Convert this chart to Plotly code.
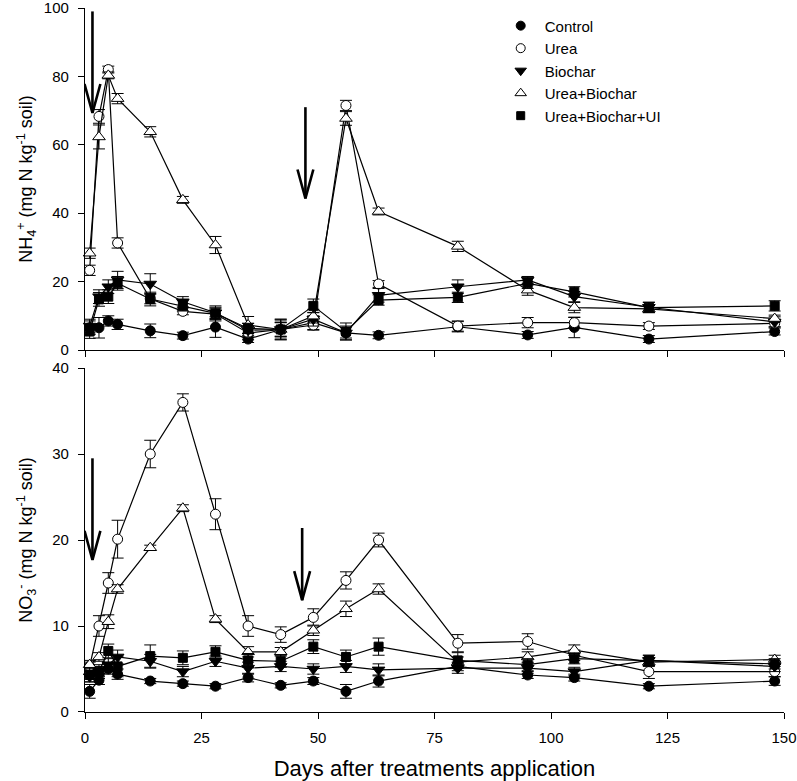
import plotly.graph_objects as go

# ---------------- data ----------------
days = [1, 3, 5, 7, 14, 21, 28, 35, 42, 49, 56, 63, 80, 95, 105, 121, 148]
series_names = ["Control", "Urea", "Biochar", "Urea+Biochar", "Urea+Biochar+UI"]

# NH4+ (mg N kg-1 soil)
nh4_control = [6.5, 6.5, 8.5, 7.5, 5.6, 4.2, 6.7, 3.2, 6.0, 8.0, 5.0, 4.3, 6.8, 4.4, 6.6, 3.2, 5.4]
nh4_urea = [23.3, 68.3, 82.0, 31.3, 15.0, 11.3, 10.5, 5.0, 6.0, 7.3, 71.5, 19.3, 7.0, 8.0, 8.0, 7.0, 7.8]
nh4_biochar = [7.0, 15.6, 18.5, 20.5, 19.3, 14.1, 10.9, 5.8, 6.0, 9.0, 5.0, 16.0, 18.5, 20.5, 15.6, 12.5, 8.2]
nh4_urea_biochar = [28.3, 62.3, 80.3, 73.5, 63.8, 43.9, 30.7, 7.3, 6.0, 9.9, 67.7, 40.5, 30.3, 17.5, 12.4, 12.0, 9.2]
nh4_ui = [5.4, 14.8, 15.6, 19.5, 14.9, 12.9, 10.7, 6.3, 6.0, 12.9, 5.4, 14.6, 15.4, 19.5, 17.0, 12.4, 12.9]

nh4_control_err = [2.0, 3.0, 1.5, 1.5, 2.0, 1.0, 3.0, 1.0, 3.0, 2.0, 1.5, 1.0, 1.5, 1.0, 3.0, 1.0, 1.0]
nh4_urea_err = [1.5, 2.0, 1.0, 1.5, 1.5, 1.0, 2.0, 2.0, 2.0, 1.5, 1.5, 1.0, 1.5, 1.5, 1.5, 1.0, 1.0]
nh4_biochar_err = [2.0, 2.0, 2.0, 2.5, 3.0, 1.5, 2.0, 2.0, 3.0, 2.0, 2.0, 2.0, 2.0, 1.0, 1.5, 1.5, 1.5]
nh4_urea_biochar_err = [1.5, 3.5, 1.0, 1.5, 1.5, 1.0, 2.5, 2.5, 2.0, 2.0, 2.0, 1.0, 1.5, 1.5, 1.5, 1.0, 1.0]
nh4_ui_err = [2.0, 2.0, 2.0, 2.0, 2.0, 1.5, 1.5, 1.5, 2.5, 2.0, 2.5, 1.5, 1.5, 1.5, 1.5, 1.5, 1.5]

# NO3- (mg N kg-1 soil)
no3_control = [2.4, 3.7, 5.0, 4.4, 3.6, 3.3, 3.0, 4.0, 3.1, 3.6, 2.4, 3.6, 5.3, 4.3, 4.0, 3.0, 3.6]
no3_urea = [5.3, 10.0, 15.0, 20.1, 30.0, 36.0, 23.0, 10.0, 9.0, 11.0, 15.3, 20.0, 8.0, 8.2, 6.6, 4.7, 4.7]
no3_biochar = [4.1, 4.7, 5.5, 6.4, 5.9, 4.7, 5.9, 5.1, 5.3, 5.0, 5.3, 4.9, 5.1, 5.1, 4.7, 6.0, 5.3]
no3_urea_biochar = [5.5, 6.4, 10.5, 14.3, 19.1, 23.7, 10.8, 7.0, 7.0, 9.5, 12.0, 14.3, 5.8, 6.4, 7.2, 5.8, 6.1]
no3_ui = [4.3, 4.7, 7.1, 5.3, 6.5, 6.3, 7.0, 6.0, 5.9, 7.6, 6.4, 7.6, 6.0, 5.5, 6.2, 6.0, 5.6]

no3_control_err = [0.8, 0.5, 0.6, 0.6, 0.3, 0.3, 0.3, 0.5, 0.3, 0.4, 0.8, 0.7, 0.5, 0.4, 0.4, 0.3, 0.5]
no3_urea_err = [0.5, 1.2, 1.2, 2.2, 1.6, 1.0, 1.8, 1.2, 0.9, 1.0, 1.0, 0.8, 1.0, 0.9, 0.6, 0.8, 0.6]
no3_biochar_err = [0.6, 0.6, 0.7, 0.8, 0.8, 0.6, 0.6, 0.7, 0.6, 0.6, 0.7, 0.7, 0.6, 0.6, 0.5, 0.6, 0.6]
no3_urea_biochar_err = [0.5, 0.5, 0.8, 0.5, 0.3, 0.4, 0.4, 0.6, 0.5, 0.6, 0.9, 0.6, 0.6, 0.6, 0.6, 0.5, 0.5]
no3_ui_err = [0.8, 0.8, 0.8, 1.2, 1.3, 0.8, 0.7, 0.8, 0.7, 0.8, 0.8, 1.0, 0.9, 0.7, 0.6, 0.6, 0.6]

# fertilisation arrows (day, start value, tip value)
nh4_arrow_days = [1.6, 47.3]
nh4_arrow_start = [99.0, 71.0]
nh4_arrow_end = [69.3, 44.3]
no3_arrow_days = [1.6, 46.6]
no3_arrow_start = [29.5, 21.4]
no3_arrow_end = [17.7, 13.0]

x_ticks = [0, 25, 50, 75, 100, 125, 150]
nh4_ticks = [0, 20, 40, 60, 80, 100]
no3_ticks = [0, 10, 20, 30, 40]

# ---------------- style ----------------
FONT = "Liberation Sans, Arial, sans-serif"
styles = {
    "Control": dict(symbol="circle", size=10, color="black"),
    "Urea": dict(symbol="circle", size=10, color="white"),
    "Biochar": dict(symbol="triangle-down", size=11, color="black"),
    "Urea+Biochar": dict(symbol="triangle-up", size=11, color="white"),
    "Urea+Biochar+UI": dict(symbol="square", size=9, color="black"),
}

nh4_vals = [nh4_control, nh4_urea, nh4_biochar, nh4_urea_biochar, nh4_ui]
nh4_errs = [nh4_control_err, nh4_urea_err, nh4_biochar_err, nh4_urea_biochar_err, nh4_ui_err]
no3_vals = [no3_control, no3_urea, no3_biochar, no3_urea_biochar, no3_ui]
no3_errs = [no3_control_err, no3_urea_err, no3_biochar_err, no3_urea_biochar_err, no3_ui_err]

fig = go.Figure()

def add_series(vals, errs, xa, ya):
    for name, v, e in zip(series_names, vals, errs):
        st = styles[name]
        fig.add_trace(go.Scatter(
            x=days, y=v, mode="lines+markers", name=name, showlegend=False,
            xaxis=xa, yaxis=ya,
            line=dict(color="black", width=1.2),
            marker=dict(symbol=st["symbol"], size=st["size"], color=st["color"],
                        line=dict(color="black", width=1)),
            error_y=dict(type="data", array=e, visible=True, color="black",
                         thickness=1, width=6),
            cliponaxis=False,
        ))

add_series(nh4_vals, nh4_errs, "x", "y")
add_series(no3_vals, no3_errs, "x2", "y2")

# legend entries (marker only)
for name in series_names:
    st = styles[name]
    fig.add_trace(go.Scatter(
        x=[None], y=[None], mode="markers", name=name,
        marker=dict(symbol=st["symbol"], size=st["size"] - 1, color=st["color"],
                    line=dict(color="black", width=1)),
    ))

# arrows
PLOT_H = 781 - 8 - 69
top_px_per_unit = (1 - 0.5142) * PLOT_H / 100.0
bot_px_per_unit = 0.4886 * PLOT_H / 40.0
WING_PX = 29
WING_DAYS = 1.7

def add_arrows(ds, starts, ends, xa, ya, ppu):
    h = WING_PX / ppu
    for d, s, t in zip(ds, starts, ends):
        fig.add_trace(go.Scatter(
            x=[d, d, None, d - WING_DAYS, d, d + WING_DAYS],
            y=[s, t, None, t + h, t, t + h],
            mode="lines", xaxis=xa, yaxis=ya, showlegend=False,
            line=dict(color="black", width=2.6), hoverinfo="skip",
        ))

add_arrows(nh4_arrow_days, nh4_arrow_start, nh4_arrow_end, "x", "y", top_px_per_unit)
add_arrows(no3_arrow_days, no3_arrow_start, no3_arrow_end, "x2", "y2", bot_px_per_unit)

axis_common = dict(showline=True, linecolor="black", linewidth=1.2, ticks="outside",
                   ticklen=6, tickcolor="black", tickwidth=1.2, showgrid=False,
                   zeroline=False, automargin=False, ticklabeloverflow="allow",
                   tickfont=dict(family=FONT, size=15, color="black"))

fig.update_layout(
    width=797, height=781,
    margin=dict(l=85, r=13, t=8, b=69),
    plot_bgcolor="white", paper_bgcolor="white",
    font=dict(family=FONT, size=15, color="black"),
    xaxis=dict(domain=[0, 1], anchor="y", range=[0, 150], tickvals=x_ticks,
               showticklabels=False, **axis_common),
    yaxis=dict(domain=[0.5142, 1], anchor="x", range=[0, 100], tickvals=nh4_ticks,
               ticklabelstandoff=6,
               title=dict(text="NH<sub>4</sub><sup>+</sup> (mg N kg<sup>-1</sup> soil)",
                          font=dict(family=FONT, size=18), standoff=6),
               **axis_common),
    xaxis2=dict(domain=[0, 1], anchor="y2", range=[0, 150], tickvals=x_ticks,
                ticklabelstandoff=6,
                title=dict(text="Days after treatments application",
                           font=dict(family=FONT, size=22), standoff=16),
                **axis_common),
    yaxis2=dict(domain=[0, 0.4886], anchor="x2", range=[0, 40], tickvals=no3_ticks,
                ticklabelstandoff=6,
                title=dict(text="NO<sub>3</sub><sup>-</sup> (mg N kg<sup>-1</sup> soil)",
                           font=dict(family=FONT, size=18), standoff=14),
                **axis_common),
    legend=dict(x=0.589, y=0.998, xanchor="left", yanchor="top",
                font=dict(family=FONT, size=15, color="black"),
                bgcolor="rgba(0,0,0,0)", itemwidth=38),
    showlegend=True,
)

fig.write_html("out.html", config={"displayModeBar": False},
               post_script="document.body.style.margin='0px';document.body.style.padding='0px';")
